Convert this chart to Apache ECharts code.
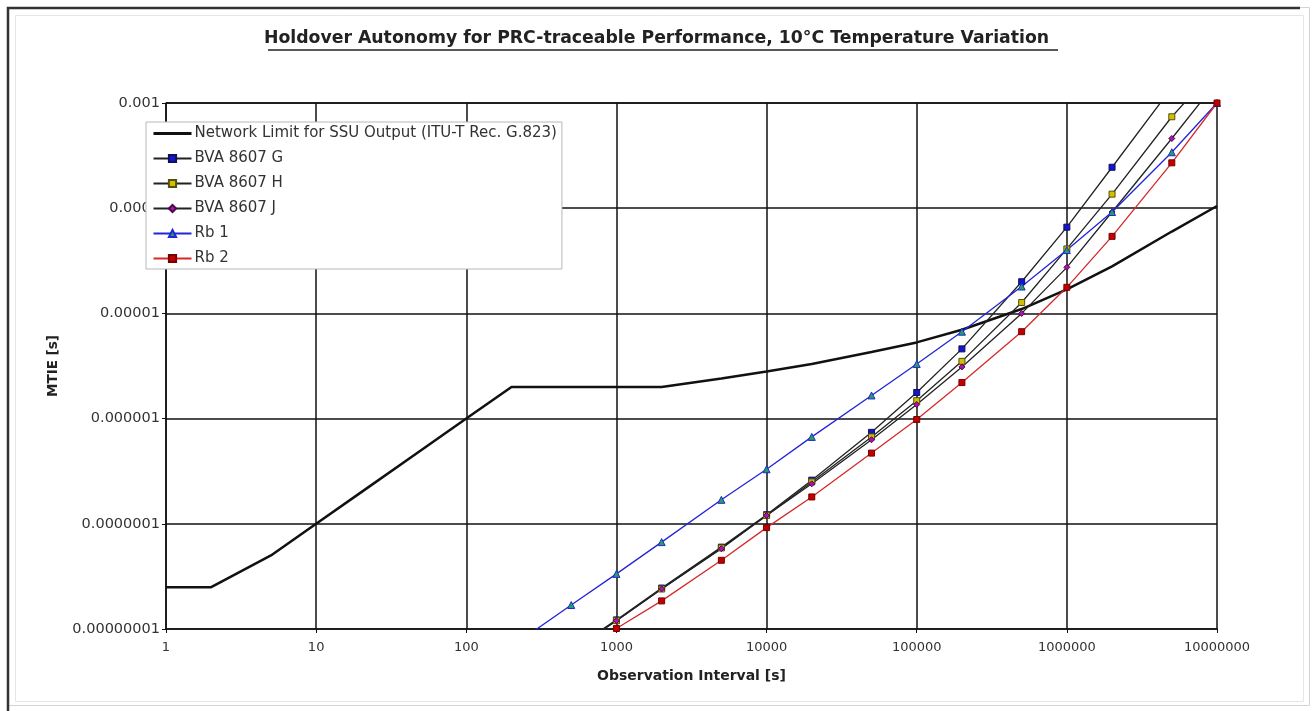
<!DOCTYPE html>
<html>
<head>
<meta charset="utf-8">
<title>Holdover Autonomy</title>
<script src="https://cdn.jsdelivr.net/npm/echarts@6/dist/echarts.min.js"></script>
<style>
  html, body { margin: 0; padding: 0; background: #fff; }
  #chart { width: 1313px; height: 711px; }
</style>
</head>
<body>
<div id="chart"></div>
<script>
// tick labels as printed on the axes
const xTickLabels = ['1', '10', '100', '1000', '10000', '100000', '1000000', '10000000']
const yTickLabels = ['0.00000001', '0.0000001', '0.000001', '0.00001', '0.0001', '0.001']

// network limit (G.823 SSU output)
const netTau = [1, 2, 5, 10, 20, 50, 100, 200, 500, 1000, 2000, 5000, 10000, 20000, 50000,
  100000, 200000, 500000, 1000000, 2000000, 5000000, 10000000]
const netMtie = [2.5e-8, 2.5e-8, 5e-8, 1e-7, 2e-7, 5e-7, 1e-6, 2e-6, 2e-6, 2e-6, 2e-6, 2.4e-6, 2.8e-6, 3.3e-6, 4.3e-6,
  5.3e-6, 7.0e-6, 1.1e-5, 1.69e-5, 2.8e-5, 6.0e-5, 1.05e-4]

// measured holdover curves, observation intervals [s]
const tau = [200, 500, 1000, 2000, 5000, 10000, 20000, 50000, 100000, 200000, 500000, 1000000, 2000000, 5000000, 10000000]
const bvaG = [null, 6.3e-9, 1.22e-8, 2.45e-8, 6.0e-8, 1.22e-7, 2.6e-7, 7.4e-7, 1.77e-6, 4.6e-6, 2.0e-5, 6.6e-5, 2.45e-4, 1.4e-3, null]
const bvaH = [null, 6.2e-9, 1.2e-8, 2.4e-8, 5.9e-8, 1.2e-7, 2.5e-7, 6.7e-7, 1.48e-6, 3.5e-6, 1.27e-5, 4.1e-5, 1.36e-4, 7.4e-4, 2.2e-3]
const bvaJ = [null, 6.2e-9, 1.2e-8, 2.4e-8, 5.8e-8, 1.2e-7, 2.4e-7, 6.3e-7, 1.36e-6, 3.1e-6, 1.0e-5, 2.74e-5, 9.2e-5, 4.6e-4, 1.6e-3]
const rb1 = [6.8e-9, 1.69e-8, 3.34e-8, 6.7e-8, 1.69e-7, 3.3e-7, 6.7e-7, 1.66e-6, 3.3e-6, 6.7e-6, 1.8e-5, 4.0e-5, 9.2e-5, 3.4e-4, 1.0e-3]
const rb2 = [null, 4.8e-9, 1.01e-8, 1.85e-8, 4.5e-8, 9.2e-8, 1.8e-7, 4.7e-7, 9.8e-7, 2.2e-6, 6.7e-6, 1.77e-5, 5.4e-5, 2.7e-4, 1.0e-3]

const netName = 'Network Limit for SSU Output (ITU-T Rec. G.823)'

function pairs(xs, ys) {
  const out = []
  xs.forEach((x, i) => {
    if (ys[i] != null) out.push([x, ys[i]])
  })
  return out
}

function measured(name, values, lineColor, symbol, fill, border) {
  return {
    name: name,
    type: 'line',
    data: pairs(tau, values),
    symbol: symbol,
    symbolSize: symbol === 'triangle' ? 7 : 6,
    showAllSymbol: true,
    clip: true,
    lineStyle: { color: lineColor, width: 1.3 },
    itemStyle: { color: fill, borderColor: border, borderWidth: 1 },
    emphasis: { disabled: true },
    z: 3
  }
}

const chart = echarts.init(document.getElementById('chart'))
chart.setOption({
  animation: false,
  backgroundColor: '#fff',
  textStyle: { fontFamily: 'DejaVu Sans' },
  title: {
    text: 'Holdover Autonomy for PRC-traceable Performance, 10°C Temperature Variation',
    left: 'center',
    top: 25,
    textStyle: { fontFamily: 'DejaVu Sans', fontWeight: 'bold', fontSize: 17.3, color: '#222' }
  },
  graphic: [
    { type: 'rect', shape: { x: 7.5, y: 7.5, width: 1302, height: 698 }, style: { fill: 'none', stroke: '#d4d4d4', lineWidth: 1 }, silent: true },
    { type: 'rect', shape: { x: 15.5, y: 15.5, width: 1288, height: 686 }, style: { fill: 'none', stroke: '#e6e6e6', lineWidth: 1 }, silent: true },
    { type: 'polyline', shape: { points: [[8, 711], [8, 8], [1300, 8]] }, style: { fill: 'none', stroke: '#333', lineWidth: 2.5 }, silent: true },
    { type: 'line', shape: { x1: 268, y1: 50, x2: 1058, y2: 50 }, style: { stroke: '#222', lineWidth: 1.5 }, silent: true }
  ],
  legend: {
    orient: 'vertical',
    left: 146,
    top: 122,
    padding: [4, 5, 3, 6],
    itemGap: 10,
    itemWidth: 38,
    itemHeight: 9,
    backgroundColor: '#fff',
    borderColor: '#b8b8b8',
    borderWidth: 1,
    textStyle: { fontFamily: 'DejaVu Sans', fontSize: 15, color: '#333', padding: [0, 0, 0, -2] },
    data: [
      { name: netName, itemStyle: { opacity: 0 }, lineStyle: { width: 3 } },
      'BVA 8607 G', 'BVA 8607 H', 'BVA 8607 J', 'Rb 1', 'Rb 2'
    ],
    z: 10
  },
  grid: { left: 166, right: 96, top: 103, bottom: 82 },
  xAxis: {
    type: 'log',
    logBase: 10,
    min: 1,
    max: 10000000,
    interval: 1,
    name: 'Observation Interval [s]',
    nameLocation: 'middle',
    nameGap: 40,
    nameTextStyle: { fontFamily: 'DejaVu Sans', fontWeight: 'bold', fontSize: 14, color: '#222' },
    axisLine: { show: true, lineStyle: { color: '#111', width: 1.5 } },
    axisTick: { show: true, length: 4, lineStyle: { color: '#111' } },
    axisLabel: {
      margin: 12,
      fontSize: 13,
      color: '#333',
      formatter: v => xTickLabels[Math.round(Math.log10(v))]
    },
    splitLine: { show: true, lineStyle: { color: '#111', width: 1.5 } },
    minorTick: { show: false }
  },
  yAxis: {
    type: 'log',
    logBase: 10,
    min: 1e-8,
    max: 1e-3,
    interval: 1,
    name: 'MTIE [s]',
    nameLocation: 'middle',
    nameRotate: 90,
    nameGap: 106,
    nameTextStyle: { fontFamily: 'DejaVu Sans', fontWeight: 'bold', fontSize: 13.5, color: '#222' },
    axisLine: { show: true, lineStyle: { color: '#111', width: 1.5 } },
    axisTick: { show: true, length: 4, lineStyle: { color: '#111' } },
    axisLabel: {
      margin: 6,
      fontSize: 14.5,
      color: '#333',
      formatter: v => yTickLabels[Math.round(Math.log10(v)) + 8]
    },
    splitLine: { show: true, lineStyle: { color: '#111', width: 1.5 } }
  },
  series: [
    {
      name: netName,
      type: 'line',
      data: pairs(netTau, netMtie),
      symbol: 'none',
      clip: true,
      lineStyle: { color: '#111', width: 2.5 },
      itemStyle: { color: '#111' },
      emphasis: { disabled: true },
      z: 2
    },
    measured('BVA 8607 G', bvaG, '#222', 'rect', '#1515d0', '#10105a'),
    measured('BVA 8607 H', bvaH, '#222', 'rect', '#cfc000', '#55500a'),
    measured('BVA 8607 J', bvaJ, '#222', 'diamond', '#b010b0', '#4a0a4a'),
    measured('Rb 1', rb1, '#2424d8', 'triangle', '#1fa35a', '#2424d8'),
    measured('Rb 2', rb2, '#d42a2a', 'rect', '#c00000', '#7a0000')
  ]
})
</script>
</body>
</html>
